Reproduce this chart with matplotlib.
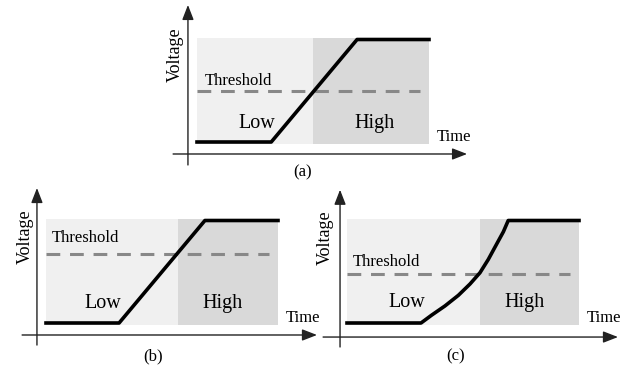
import matplotlib
matplotlib.use("Agg")
import matplotlib.pyplot as plt

plt.rcParams['font.family'] = ['Liberation Serif', 'DejaVu Serif']

# waveforms (time in arbitrary units, voltage normalised low=0 / high=1)
a_time = [0, 3.2, 6.9, 10.0]
a_volt = [0, 0, 1, 1]
b_time = [0, 3.15, 6.85, 10.0]
b_volt = [0, 0, 1, 1]
c_time = [0, 3.19, 3.65, 4.22, 4.80, 5.30, 5.73, 6.09, 6.45, 6.74, 6.95, 10.0]
c_volt = [0, 0, 0.077, 0.166, 0.27, 0.38, 0.49, 0.62, 0.77, 0.89, 1, 1]

thresholds = [0.5, 0.67, 0.48]
high_start = [5.0, 5.7, 5.73]
panel_names = ["(a)", "(b)", "(c)"]

# layout
W, H = 633, 369
sx, sy = 23.2, 102.5
XL = (-1.2, 11.9)
YL = (-0.26, 1.40)
origins = [(197, 142), (46, 323), (347, 323)]
# y-axis position, x-axis position, y-axis bottom, y arrow tip, x arrow tip
axes_geo = [(-0.39, -0.117, -0.224, 1.337, 11.64),
            (-0.39, -0.117, -0.215, 1.317, 11.68),
            (-0.30, -0.137, -0.234, 1.300, 11.68)]
# threshold label pos, low/high label v, voltage label pos, caption pos
labels = [((0.34, 0.595), 0.185, (-0.95, 0.85), (4.57, -0.30)),
          ((0.26, 0.83), 0.195, (-0.90, 0.84), (4.61, -0.33)),
          ((0.26, 0.60), 0.20, (-0.95, 0.83), (4.66, -0.33))]
low_x = [2.59, 2.46, 2.59]
high_x = [7.67, 7.63, 7.67]

fig = plt.figure(figsize=(W / 100, H / 100), dpi=100)

waves = [(a_time, a_volt), (b_time, b_volt), (c_time, c_volt)]
for i in range(3):
    ox, oy = origins[i]
    left = (ox + XL[0] * sx) / W
    bottom = (H - (oy - YL[0] * sy)) / H
    ax = fig.add_axes([left, bottom, (XL[1] - XL[0]) * sx / W, (YL[1] - YL[0]) * sy / H])
    ax.set_xlim(XL)
    ax.set_ylim(YL)
    ax.axis('off')

    # regions
    y0 = (-0.02 - YL[0]) / (YL[1] - YL[0])
    y1 = (1.01 - YL[0]) / (YL[1] - YL[0])
    ax.axvspan(0, high_start[i], ymin=y0, ymax=y1, color='#f0f0f0', lw=0, zorder=0)
    ax.axvspan(high_start[i], 10.0, ymin=y0, ymax=y1, color='#d9d9d9', lw=0, zorder=0)

    # threshold
    ax.plot([0, 9.6], [thresholds[i], thresholds[i]], color='#888888', lw=2.2,
            dashes=(4.5, 3.2), zorder=2)

    # signal
    t, v = waves[i]
    ax.plot(t, v, color='black', lw=2.6, solid_joinstyle='round', zorder=3)

    # axes arrows
    yx, xy, yb, ytip, xtip = axes_geo[i]
    ax.annotate('', xy=(yx, ytip), xytext=(yx, yb),
                arrowprops=dict(arrowstyle='-|>,head_length=0.9,head_width=0.35',
                                color='#222222', lw=1.0, shrinkA=0, shrinkB=0))
    ax.annotate('', xy=(xtip, xy), xytext=(-1.03, xy),
                arrowprops=dict(arrowstyle='-|>,head_length=0.9,head_width=0.35',
                                color='#222222', lw=1.0, shrinkA=0, shrinkB=0))

    (tx, ty), lv, (vx, vy), (cx, cy) = labels[i]
    ax.text(tx, ty, "Threshold", fontsize=12, ha='left', va='center')
    ax.text(low_x[i], lv, "Low", fontsize=14.5, ha='center', va='center')
    ax.text(high_x[i], lv, "High", fontsize=14.5, ha='center', va='center')
    ax.text(10.32, 0.05, "Time", fontsize=12, ha='left', va='center')
    ax.text(vx, vy, "Voltage", fontsize=13, ha='center', va='center', rotation=90)
    ax.text(cx, cy, panel_names[i], fontsize=12, ha='center', va='center')

fig.savefig("out.png", dpi=100)
